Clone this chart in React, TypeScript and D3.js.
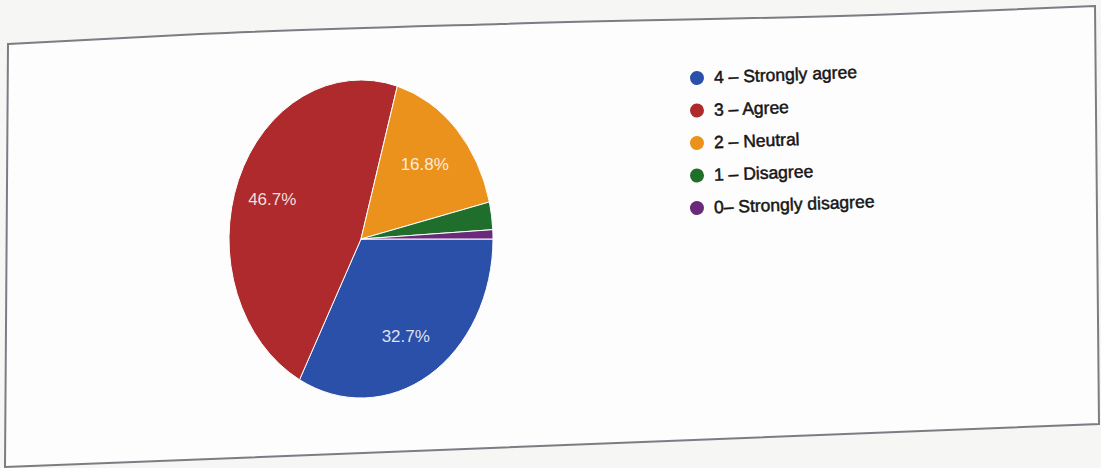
import React from "react";
import * as d3 from "d3";

const categories = [
  "4 – Strongly agree",
  "3 – Agree",
  "2 – Neutral",
  "1 – Disagree",
  "0– Strongly disagree",
];
const counts = [35, 50, 18, 3, 1];
const colors = ["#2a50aa", "#ae2a2c", "#ea921c", "#1f6e2c", "#6a2a7c"];

const W = 1101;
const H = 468;

export default function App() {
  const total = d3.sum(counts);
  const pie = d3
    .pie<number>()
    .sort(null)
    .startAngle(Math.PI / 2)
    .endAngle(Math.PI / 2 + Math.PI * 2);
  const arcs = pie(counts);
  const R = 159;
  const sx = 132 / 159;
  const cx = 361;
  const cy = 239;
  const arc = d3.arc<d3.PieArcDatum<number>>().innerRadius(0).outerRadius(R);
  const labelArc = d3
    .arc<d3.PieArcDatum<number>>()
    .innerRadius(R * 0.7)
    .outerRadius(R * 0.7);
  const fmt = d3.format(".1%");

  const frameLine = d3.line().curve(d3.curveMonotoneX);
  const topEdge = frameLine([
    [8, 44],
    [200, 34],
    [500, 24],
    [900, 14],
    [1095, 6],
  ]);

  const legendY = d3
    .scalePoint<string>()
    .domain(categories)
    .range([78, 208]);

  return (
    <svg
      width={W}
      height={H}
      style={{ position: "absolute", left: 0, top: 0, background: "#f6f6f5" }}
      fontFamily="'Liberation Sans', Arial, sans-serif"
    >
      <path
        d={`${topEdge} L1099,424 L5,467 Z`}
        fill="#fdfdfd"
        stroke="#7a7d82"
        strokeWidth={2}
      />
      <g transform={`translate(${cx},${cy}) scale(${sx},1)`}>
        {arcs.map((a, i) => (
          <path
            key={i}
            d={arc(a) || ""}
            fill={colors[i]}
            stroke="#ffffff"
            strokeWidth={1}
            vectorEffect="non-scaling-stroke"
          />
        ))}
      </g>
      <g transform={`translate(${cx},${cy})`}>
        {arcs.map((a, i) => {
          if (a.value / total < 0.1) return null;
          const [lx, ly] = labelArc.centroid(a);
          return (
            <text
              key={i}
              x={lx * sx - 3}
              y={ly + 2}
              textAnchor="middle"
              dominantBaseline="central"
              fontSize={17}
              fill="#ffffff"
              fillOpacity={0.85}
            >
              {fmt(a.value / total)}
            </text>
          );
        })}
      </g>
      <g>
        {categories.map((c, i) => {
          const y = legendY(c) as number;
          return (
            <g key={c} transform={`translate(697,${y}) rotate(-2.2)`}>
              <circle r={7} fill={colors[i]} />
              <text
                x={17}
                y={0}
                dominantBaseline="central"
                fontSize={17.5}
                fill="#161616"
                stroke="#161616"
                strokeWidth={0.5}
              >
                {c}
              </text>
            </g>
          );
        })}
      </g>
    </svg>
  );
}
